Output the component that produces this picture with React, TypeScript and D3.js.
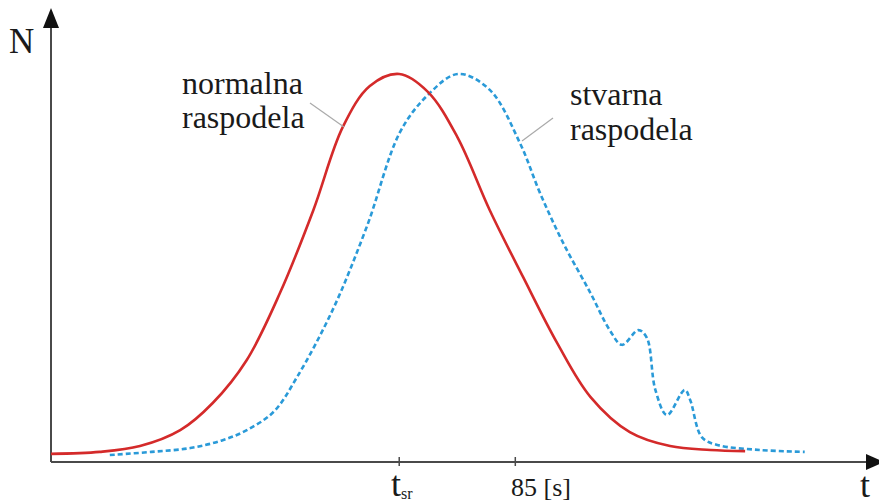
import React, { useRef, useEffect } from "react";
import * as d3 from "d3";

// time [s] and count N (0..100, peak = 100)
const NORMAL_T = [25.0, 31.3, 36.5, 41.7, 45.9, 50.3, 54.6, 58.9, 62.7, 66.2, 70.0, 73.7, 77.5, 81.7, 86.0, 90.4, 94.7, 99.8, 105.0, 110.2, 114.7];
const NORMAL_N = [2.1, 2.6, 4.1, 8.2, 15.2, 26.3, 43.6, 64.9, 86.3, 96.9, 100, 95.4, 83.8, 64.9, 47.7, 30.7, 16.8, 7.7, 4.1, 3.1, 2.8];

const REAL_T = [32.6, 38.0, 43.0, 47.0, 50.3, 53.8, 56.8, 61.4, 65.8, 70.1, 73.7, 77.6, 81.7, 85.6, 88.2, 91.2, 94.7, 97.2, 98.8, 100.9, 102.0, 103.1, 104.6, 106.9, 107.6, 109.1, 111.1, 116.6, 122.4];
const REAL_N = [1.8, 2.6, 3.6, 5.5, 8.2, 13.0, 21.9, 39.2, 60.6, 85.0, 94.6, 100, 95.9, 82.2, 69.3, 56.4, 43.6, 34.0, 30.2, 34.0, 32.0, 18.6, 12.1, 18.6, 16.0, 6.4, 4.4, 3.1, 2.6];

const T_SR = 70;
const T_85 = 85;

const W = 879;
const H = 502;

const App: React.FC = () => {
  const svgRef = useRef<SVGSVGElement | null>(null);

  useEffect(() => {
    if (!svgRef.current) return;
    const svg = d3.select(svgRef.current);
    svg.selectAll("*").remove();

    const x = d3.scaleLinear().domain([25, 132]).range([51, 879]);
    const y = d3.scaleLinear().domain([0, 100]).range([462, 74]);
    const font = "'Liberation Serif', 'DejaVu Serif', 'Times New Roman', Times, serif";
    const axisColor = "#4a4a4a";

    // axes
    svg.append("line").attr("x1", x(25)).attr("x2", 872).attr("y1", y(0)).attr("y2", y(0))
      .attr("stroke", axisColor).attr("stroke-width", 2);
    svg.append("line").attr("x1", x(25)).attr("x2", x(25)).attr("y1", y(0)).attr("y2", 22)
      .attr("stroke", axisColor).attr("stroke-width", 2);
    svg.append("path").attr("d", `M${x(25)},8 L${x(25) - 8},28 L${x(25) + 8},28 Z`).attr("fill", "#111");
    svg.append("path").attr("d", `M884,${y(0)} L866,${y(0) - 8} L866,${y(0) + 8} Z`).attr("fill", "#111");

    [T_SR, T_85].forEach((t) => {
      svg.append("line").attr("x1", x(t)).attr("x2", x(t)).attr("y1", y(0) - 5).attr("y2", y(0) + 4)
        .attr("stroke", axisColor).attr("stroke-width", 1.5);
    });

    const line = d3.line<[number, number]>().x((d) => x(d[0])).y((d) => y(d[1])).curve(d3.curveCatmullRom.alpha(0.5));

    svg.append("path").datum(REAL_T.map((t, i) => [t, REAL_N[i]] as [number, number]))
      .attr("d", line).attr("fill", "none").attr("stroke", "#2a9ad8").attr("stroke-width", 2.6)
      .attr("stroke-dasharray", "5,3");
    svg.append("path").datum(NORMAL_T.map((t, i) => [t, NORMAL_N[i]] as [number, number]))
      .attr("d", line).attr("fill", "none").attr("stroke", "#d42a2a").attr("stroke-width", 2.6);

    // leader lines
    svg.append("line").attr("x1", 310).attr("y1", 103).attr("x2", 344).attr("y2", 127)
      .attr("stroke", "#aaa").attr("stroke-width", 1.2);
    svg.append("line").attr("x1", 553).attr("y1", 118).attr("x2", 522).attr("y2", 141)
      .attr("stroke", "#aaa").attr("stroke-width", 1.2);

    const text = (tx: number, ty: number, s: string, size: number) =>
      svg.append("text").attr("x", tx).attr("y", ty)
        .style("font-family", font).style("font-size", `${size}px`)
        .attr("fill", "#1a1a1a").text(s);

    text(182, 94, "normalna", 32);
    text(182, 128, "raspodela", 32);
    text(570, 105, "stvarna", 32);
    text(570, 140, "raspodela", 32);
    text(9, 53, "N", 35);
    text(860, 497, "t", 36);
    text(511, 496, "85 [s]", 26);
    const tsr = text(391, 496, "t", 36);
    tsr.append("tspan").style("font-size", "16px").attr("dy", 3).text("sr");
  }, []);

  return (
    <div style={{ position: "absolute", left: 0, top: 0 }}>
      <svg ref={svgRef} width={W} height={H} style={{ display: "block", background: "#fff" }} />
    </div>
  );
};

export default App;
